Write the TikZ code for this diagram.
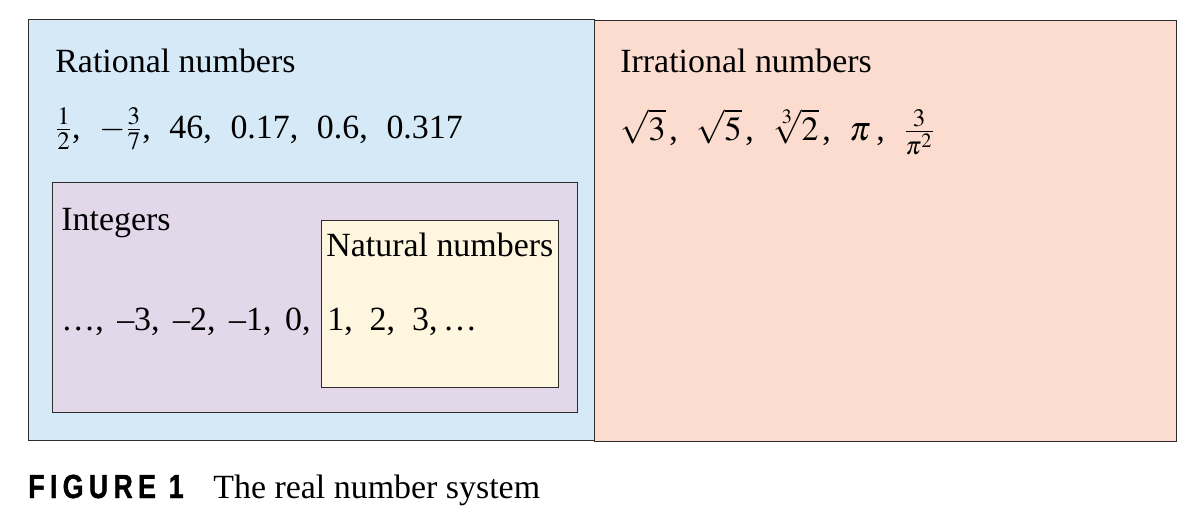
\documentclass[tikz,border=0pt]{standalone}
\usepackage{mathptmx}
\usepackage[no-math]{fontspec}
\setmainfont{Liberation Serif}
\newfontfamily\figfont[UprightFont=* Bold, FakeStretch=0.8, LetterSpace=16, FakeBold=1.2]{Liberation Sans}
\definecolor{ratblue}{RGB}{213, 233, 247}
\definecolor{intpurple}{RGB}{227, 216, 234}
\definecolor{natyellow}{RGB}{255, 246, 224}
\definecolor{irrpeach}{RGB}{251, 220, 206}
\definecolor{edgegray}{RGB}{45, 45, 45}
\usetikzlibrary{positioning}
\tikzset{
  setbox/.style={rectangle, draw=edgegray, fill=#1, line width=0.7pt, inner sep=0pt, anchor=north west},
  settext/.style={anchor=base west, inner sep=0pt, font=\fontsize{19.3}{23}\selectfont},
}
\newcommand{\gap}{,\hspace{0.55em}}
\newcommand{\igap}{,\hspace{0.4em}}

\begin{document}
\begin{tikzpicture}[x=0.02cm, y=-0.02cm]
\useasboundingbox (0,0) rectangle (1202,515);
% the four sets
\node[setbox=ratblue, minimum width=11.32cm, minimum height=8.42cm] (ratbox) at (28,19) {};
\node[setbox=irrpeach, minimum width=11.64cm, minimum height=8.42cm] (irrbox) at (594,20) {};
\node[setbox=intpurple, minimum width=10.5cm, minimum height=4.6cm] (intbox) at (52,182) {};
\node[setbox=natyellow, minimum width=4.74cm, minimum height=3.34cm] (natbox) at (321,220) {};
% labels and members
\node[settext] (ratlabel) at (55,72) {Rational numbers};
\node[settext] (ratlist) at (55,138) {$\frac{1}{2}$\gap$-\frac{3}{7}$\gap46\gap0.17\gap0.6\gap0.317};
\node[settext] (irrlabel) at (620,72) {Irrational numbers};
\node[settext] (irrlist) at (620,140) {$\sqrt{3}\,$\gap$\sqrt{5}\,$\gap$\sqrt[3]{2}\,$\gap$\pi$\,\gap$\frac{3}{\pi^2}$};
\node[settext] (intlabel) at (61,230) {Integers};
\node[settext] (natlabel) at (326,256) {Natural numbers};
\node[settext] (intlist) at (61,330) {\dots\igap--3\igap--2\igap--1\igap0,};
\node[settext] (natlist) at (327,330) {1,\ \ 2,\ \ 3,\,\dots};
% caption
\node[anchor=base west, inner sep=0pt, font=\figfont\fontsize{19}{23}\selectfont] (figtag) at (28,498) {FIGURE 1};
\node[settext, anchor=base west] (figcaption) at (213,498) {The real number system};
\end{tikzpicture}
\end{document}
